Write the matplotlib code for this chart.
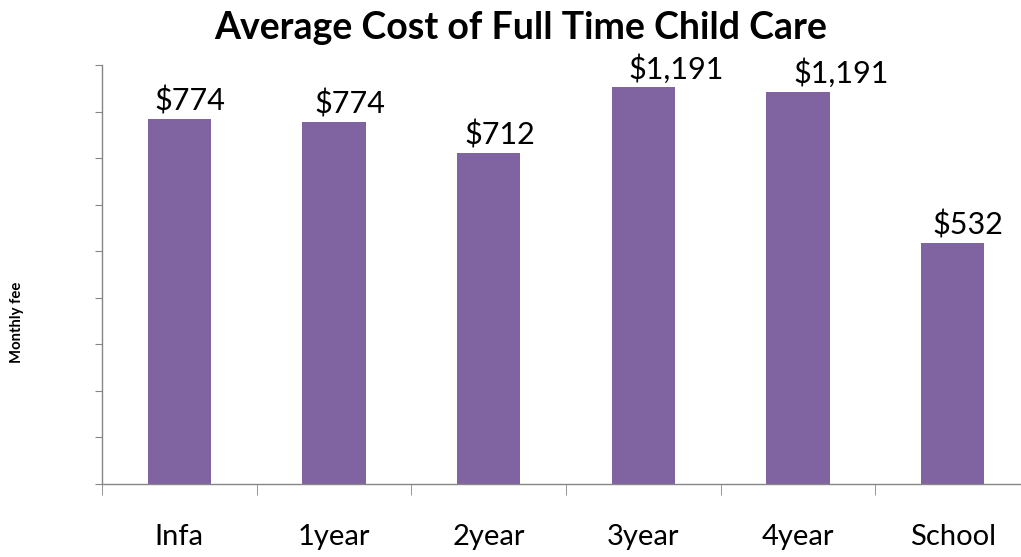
import matplotlib.pyplot as plt
import numpy as np

# Chart data
categories = ['Infa', '1year', '2year', '3year', '4year', 'School']
bar_heights = [783, 777, 710, 852, 843, 517]
bar_labels = ['$774', '$774', '$712', '$1,191', '$1,191', '$532']

# small sideways nudges of the value labels (category units)
label_nudge = [0.07, 0.10, 0.07, 0.21, 0.28, 0.10]

plt.rcParams['font.family'] = ['Lato', 'DejaVu Sans']

fig = plt.figure(figsize=(10.21, 5.57), dpi=100)
ax = fig.add_axes([102 / 1021, 73 / 557, 928 / 1021, 419 / 557])

x = np.arange(len(categories))
ax.bar(x, bar_heights, width=0.41, color='#8064A2', zorder=2)

for xi, h, lab, dx in zip(x, bar_heights, bar_labels, label_nudge):
    ax.text(xi + dx, h + 8, lab, ha='center', va='bottom', fontsize=22,
            color='black')

ax.set_xlim(-0.5, len(categories) - 0.5)
ax.set_ylim(0, 900)

# Remove the top and right frame, grey the rest
for side in ['top', 'right']:
    ax.spines[side].set_visible(False)
for side in ['left', 'bottom']:
    ax.spines[side].set_color('#868686')
    ax.spines[side].set_linewidth(1.0)

ax.set_xticks(x)
ax.set_xticklabels(categories, fontsize=21)
ax.set_xticks(np.arange(-0.5, len(categories)), minor=True)
ax.tick_params(axis='x', which='major', length=0, pad=29)
ax.tick_params(axis='x', which='minor', length=8, color='#868686')

ax.set_yticks(np.arange(0, 901, 100))
ax.set_yticklabels([])
ax.tick_params(axis='y', length=5, color='#868686')

fig.text(17 / 1021, 1 - 322 / 557, 'Monthly fee', rotation=90, ha='center',
         va='center', fontsize=10.7, fontweight='bold')
fig.text(521 / 1021, 1 - 28 / 557, 'Average Cost of Full Time Child Care',
         ha='center', va='center', fontsize=27, fontweight='bold')

fig.savefig('out.png', dpi=100)
